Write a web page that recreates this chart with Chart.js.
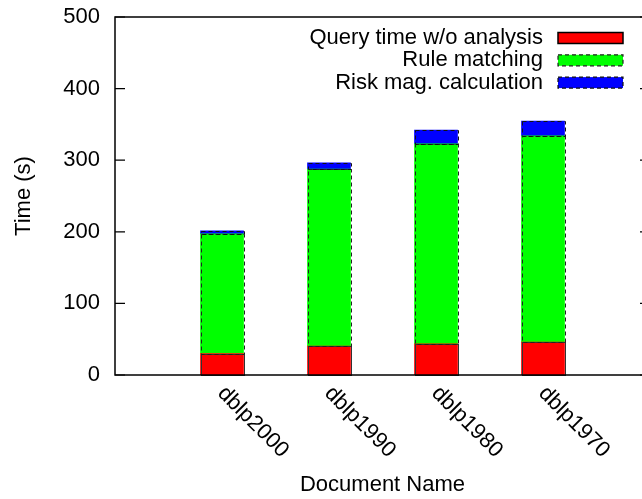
<!DOCTYPE html>
<html>
<head>
	<meta charset="UTF-8">
	<title>Time per document</title>
	<script src="https://cdn.jsdelivr.net/npm/chart.js@4.4.1/dist/chart.umd.min.js"></script>
	<style>
		html, body { margin: 0; padding: 0; overflow: hidden; background: #fff; }
		#holder { width: 660px; height: 499px; }
	</style>
</head>
<body>
	<div id="holder"><canvas id="chart-area"></canvas></div>

<script>
	var categories = ['dblp2000', 'dblp1990', 'dblp1980', 'dblp1970'];
	var queryTime = [30, 40.5, 43.7, 46];
	var ruleMatching = [167, 247, 279, 288];
	var riskCalc = [4.5, 9, 19.5, 20.5];
	var seriesNames = ['Query time w/o analysis', 'Rule matching', 'Risk mag. calculation'];

	var FONT = '"Liberation Sans", Arial, Helvetica, sans-serif';
	var FSIZE = 22;

	function points(values) {
		return values.map(function (v, i) { return { x: i, y: v }; });
	}

	// outline style per dataset: [color, dash]
	var outlines = [
		['#333333', []],
		['#222222', [4, 3]],
		['#111111', [4, 3]]
	];

	var gnuplotLook = {
		id: 'gnuplotLook',
		afterDatasetsDraw: function (chart) {
			var ctx = chart.ctx;
			ctx.save();
			ctx.lineWidth = 1;
			chart.data.datasets.forEach(function (ds, di) {
				var meta = chart.getDatasetMeta(di);
				ctx.strokeStyle = outlines[di][0];
				ctx.setLineDash(outlines[di][1]);
				meta.data.forEach(function (bar) {
					var p = bar.getProps(['x', 'y', 'base', 'width'], true);
					ctx.strokeRect(Math.round(p.x - p.width / 2) + 0.5, Math.round(p.y) + 0.5,
						Math.round(p.width), Math.round(p.base - p.y));
				});
			});
			ctx.restore();
		},
		afterDraw: function (chart) {
			var ctx = chart.ctx;
			var a = chart.chartArea;
			var ys = chart.scales.y;
			var xs = chart.scales.x;
			ctx.save();

			// frame
			ctx.strokeStyle = '#000';
			ctx.lineWidth = 1.5;
			ctx.strokeRect(a.left, a.top, a.right - a.left, a.bottom - a.top);

			// inward ticks, both sides
			ctx.lineWidth = 1.2;
			ys.ticks.forEach(function (t) {
				var py = ys.getPixelForValue(t.value);
				ctx.beginPath();
				ctx.moveTo(a.left, py); ctx.lineTo(a.left + 10, py);
				ctx.moveTo(a.right, py); ctx.lineTo(a.right - 10, py);
				ctx.stroke();
			});

			// rotated category labels
			ctx.fillStyle = '#000';
			ctx.font = FSIZE + 'px ' + FONT;
			ctx.textAlign = 'left';
			ctx.textBaseline = 'middle';
			categories.forEach(function (c, i) {
				var px = xs.getPixelForValue(i);
				ctx.save();
				ctx.translate(px - 1, a.bottom + 15);
				ctx.rotate(Math.PI / 4);
				ctx.fillText(c, 0, 0);
				ctx.restore();
			});

			// legend, text right aligned with sample box on the right
			var lx = 558, lw = 65, ly = 38, step = 22.3;
			chart.data.datasets.forEach(function (ds, di) {
				var cy = ly + di * step;
				ctx.fillStyle = '#000';
				ctx.textAlign = 'right';
				ctx.fillText(ds.label, 543, cy);
				ctx.fillStyle = ds.backgroundColor;
				ctx.fillRect(lx, cy - 5.5, lw, 11);
				ctx.strokeStyle = di === 0 ? '#000' : outlines[di][0];
				ctx.lineWidth = di === 0 ? 1.5 : 1.2;
				ctx.setLineDash(outlines[di][1]);
				ctx.strokeRect(lx, cy - 5.5, lw, 11);
				ctx.setLineDash([]);
			});
			ctx.restore();
		}
	};

	var config = {
		type: 'bar',
		data: {
			datasets: [{
				label: seriesNames[0],
				data: points(queryTime),
				backgroundColor: '#ff0000'
			}, {
				label: seriesNames[1],
				data: points(ruleMatching),
				backgroundColor: '#00ff00'
			}, {
				label: seriesNames[2],
				data: points(riskCalc),
				backgroundColor: '#0000ff'
			}]
		},
		options: {
			responsive: true,
			maintainAspectRatio: false,
			animation: false,
			layout: { padding: { top: 17, right: 10, left: 0, bottom: 0 } },
			datasets: { bar: { barThickness: 43, borderWidth: 0 } },
			plugins: {
				legend: { display: false },
				tooltip: { enabled: false }
			},
			scales: {
				x: {
					type: 'linear',
					stacked: true,
					offset: false,
					min: -1,
					max: 4,
					grid: { display: false, drawTicks: false },
					border: { display: false },
					ticks: { display: false },
					title: {
						display: true,
						text: 'Document Name',
						color: '#000',
						font: { size: FSIZE, family: FONT },
						padding: { top: 0, bottom: 1 }
					},
					afterFit: function (s) { s.height = 124; }
				},
				y: {
					stacked: true,
					min: 0,
					max: 500,
					// tick marks hidden, tickLength only spaces the labels
					grid: { display: false, drawTicks: true, tickLength: 15 },
					border: { display: false },
					ticks: {
						stepSize: 100,
						padding: 0,
						color: '#000',
						font: { size: FSIZE, family: FONT }
					},
					title: {
						display: true,
						text: 'Time (s)',
						color: '#000',
						font: { size: FSIZE, family: FONT },
						padding: { top: 11, bottom: 0 }
					},
					afterFit: function (s) { s.width = 115; }
				}
			}
		},
		plugins: [gnuplotLook]
	};

	window.onload = function () {
		var ctx = document.getElementById('chart-area').getContext('2d');
		window.myBar = new Chart(ctx, config);
	};
</script>
</body>
</html>
